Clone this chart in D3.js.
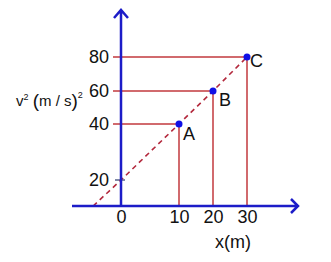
<!DOCTYPE html>
<html>
<head>
<meta charset="utf-8">
<script src="https://cdn.jsdelivr.net/npm/d3@7"></script>
<style>
  body { margin: 0; background: #fff; }
  text { font-family: "Liberation Sans", Arial, sans-serif; fill: #111; }
</style>
</head>
<body>
<div id="chart"></div>
<script>
// Chart values
const xTickValues = [0, 10, 20, 30];
const yTickValues = [20, 40, 60, 80];
const pointNames = ["A", "B", "C"];
const pointX = [10, 20, 30];
const pointY = [40, 60, 80];
// dashed line (meets the x axis left of the origin)
const lineX = [-4.8, 0, 10, 20, 30];
const lineY = [0, 20, 40, 60, 80];

const width = 331, height = 262;
const blue = "#1c1cc8", red = "#c23a3e";

const svg = d3.select("#chart")
    .append("svg")
    .attr("width", width)
    .attr("height", height);

// The sketch is not drawn to scale, so use piecewise scales
const x = d3.scaleLinear().domain([0, 10, 20, 30]).range([121, 179, 213, 247]);
const y = d3.scaleLinear().domain([0, 20, 40, 60, 80]).range([206, 180, 124, 91, 57]);

const points = pointNames.map((n, i) => ({ name: n, x: pointX[i], y: pointY[i] }));

// Red guide lines (horizontal from tick, vertical down to x axis)
svg.append("g")
    .selectAll("path")
    .data(points)
    .join("path")
    .attr("d", d => `M${x(0) - 8},${y(d.y)}H${x(d.x)}V${y(0)}`)
    .attr("fill", "none")
    .attr("stroke", red)
    .attr("stroke-width", 1.5);

// Tick at 20
svg.append("line")
    .attr("x1", x(0) - 6).attr("x2", x(0) + 4)
    .attr("y1", y(20)).attr("y2", y(20))
    .attr("stroke", "#55608a")
    .attr("stroke-width", 1.5);

// Dashed line through the points
const line = d3.line().x(d => x(d[0])).y(d => y(d[1]));
svg.append("path")
    .datum(lineX.map((v, i) => [v, lineY[i]]))
    .attr("d", line)
    .attr("fill", "none")
    .attr("stroke", "#b3283c")
    .attr("stroke-width", 1.6)
    .attr("stroke-dasharray", "5,4");

// Axes lines with arrow heads
svg.append("path")
    .attr("d", `M72,${y(0)}H298 M291,${y(0) - 7}L298,${y(0)}L291,${y(0) + 7}`)
    .attr("fill", "none")
    .attr("stroke", blue)
    .attr("stroke-width", 2.5);

svg.append("path")
    .attr("d", `M${x(0)},${y(0)}V10 M${x(0) - 7},18L${x(0)},10L${x(0) + 7},18`)
    .attr("fill", "none")
    .attr("stroke", blue)
    .attr("stroke-width", 2.5);

// Tick labels
const bottomAxis = svg.append("g")
    .attr("transform", `translate(0,${y(0)})`)
    .call(d3.axisBottom(x).tickValues(xTickValues).tickSize(0).tickPadding(4));
bottomAxis.select(".domain").remove();

const leftAxis = svg.append("g")
    .attr("transform", `translate(${x(0)},0)`)
    .call(d3.axisLeft(y).tickValues(yTickValues).tickSize(0).tickPadding(12));
leftAxis.select(".domain").remove();

svg.selectAll(".tick text")
    .attr("font-size", 18)
    .attr("font-family", "Liberation Sans, Arial, sans-serif")
    .attr("fill", "#111");

// Points and their names
svg.append("g")
    .selectAll("circle")
    .data(points)
    .join("circle")
    .attr("cx", d => x(d.x))
    .attr("cy", d => y(d.y))
    .attr("r", 3.5)
    .attr("fill", "#1010e6");

svg.append("g")
    .selectAll("text")
    .data(points)
    .join("text")
    .attr("x", d => x(d.x) + (d.name === "A" ? 4 : d.name === "B" ? 6 : 3))
    .attr("y", d => y(d.y) + (d.name === "A" ? 16 : d.name === "B" ? 15 : 10))
    .attr("font-size", 18)
    .text(d => d.name);

// Axis titles
svg.append("text")
    .attr("x", 233)
    .attr("y", 248)
    .attr("text-anchor", "middle")
    .attr("font-size", 18)
    .text("x(m)");

const yTitle = svg.append("text")
    .attr("x", 16)
    .attr("y", 106)
    .attr("font-size", 15);
yTitle.append("tspan").text("v");
yTitle.append("tspan").attr("font-size", 9).attr("dy", -6).text("2");
yTitle.append("tspan").attr("dy", 6).text(" ");
yTitle.append("tspan").attr("font-size", 19).attr("dy", 1).text("(");
yTitle.append("tspan").attr("dy", -1).text("m / s");
yTitle.append("tspan").attr("font-size", 19).attr("dy", 1).text(")");
yTitle.append("tspan").attr("font-size", 9).attr("dy", -9).text("2");
</script>
</body>
</html>
